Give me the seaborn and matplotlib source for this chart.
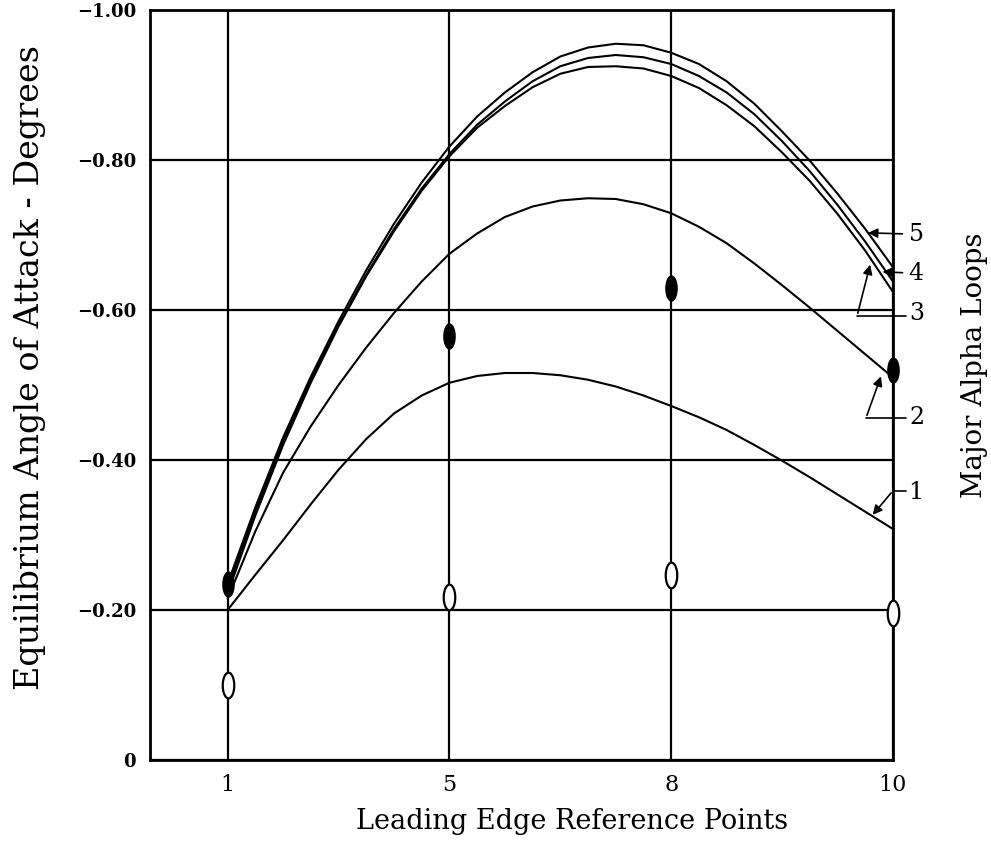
import numpy as np
import pandas as pd
import matplotlib
matplotlib.use("Agg")
import matplotlib.pyplot as plt
import seaborn as sns

# leading edge reference points (categorical, evenly spaced)
ref_points = ["1", "5", "8", "10"]
# curve samples read at 1/8 steps between the reference points
pos = [i / 8 for i in range(25)]
loop1 = [0.200, 0.247, 0.293, 0.341, 0.387, 0.428, 0.462, 0.486, 0.503, 0.512, 0.516, 0.516, 0.513,
         0.507, 0.498, 0.486, 0.472, 0.457, 0.440, 0.420, 0.399, 0.377, 0.354, 0.331, 0.308]
loop2 = [0.215, 0.305, 0.383, 0.445, 0.500, 0.550, 0.596, 0.638, 0.675, 0.702, 0.724, 0.738, 0.746,
         0.749, 0.748, 0.741, 0.729, 0.711, 0.689, 0.662, 0.633, 0.603, 0.572, 0.541, 0.510]
loop3 = [0.222, 0.326, 0.420, 0.503, 0.578, 0.645, 0.705, 0.759, 0.805, 0.843, 0.872, 0.897, 0.915,
         0.924, 0.925, 0.922, 0.912, 0.896, 0.873, 0.845, 0.810, 0.772, 0.728, 0.679, 0.624]
loop4 = [0.228, 0.332, 0.425, 0.507, 0.580, 0.647, 0.708, 0.762, 0.808, 0.847, 0.878, 0.905, 0.925,
         0.936, 0.940, 0.937, 0.928, 0.912, 0.890, 0.861, 0.825, 0.785, 0.740, 0.691, 0.638]
loop5 = [0.235, 0.337, 0.430, 0.511, 0.585, 0.653, 0.715, 0.770, 0.818, 0.858, 0.890, 0.917, 0.938,
         0.950, 0.955, 0.953, 0.943, 0.928, 0.905, 0.875, 0.838, 0.799, 0.755, 0.708, 0.657]

# measured points (magnitudes)
filled_vals = [0.235, 0.565, 0.630, 0.520]
open_vals = [0.100, 0.218, 0.247, 0.196]

yticks = [0, 0.2, 0.4, 0.6, 0.8, 1.0]
ytick_labels = ["0", "\u22120.20", "\u22120.40", "\u22120.60", "\u22120.80", "\u22121.00"]

sns.set_theme(style="white")
plt.rcParams["font.family"] = ["DejaVu Serif"]
plt.rcParams["text.color"] = "black"
plt.rcParams["axes.labelcolor"] = "black"
plt.rcParams["xtick.color"] = "black"
plt.rcParams["ytick.color"] = "black"

fig = plt.figure(figsize=(9.91, 8.43), dpi=100)
ax = fig.add_axes([150 / 991, 83 / 843, (893 - 150) / 991, (760 - 10) / 843])

loops = {"1": loop1, "2": loop2, "3": loop3, "4": loop4, "5": loop5}
df = pd.DataFrame([(name, p, v) for name, vals in loops.items() for p, v in zip(pos, vals)],
                  columns=["loop", "pos", "alpha"])
for name, d in df.groupby("loop"):
    sns.lineplot(data=d, x="pos", y="alpha", ax=ax, color="black", lw=1.5, zorder=3)

# ellipse marker
t = np.linspace(0, 2 * np.pi, 60)
ell = np.column_stack([0.45 * np.cos(t), np.sin(t)])
idx = list(range(len(ref_points)))
sns.scatterplot(x=idx, y=filled_vals, ax=ax, marker=ell, s=320, color="black",
                edgecolor="black", linewidth=1, zorder=5, clip_on=False)
sns.scatterplot(x=idx, y=open_vals, ax=ax, marker=ell, s=340, facecolor="white",
                edgecolor="black", linewidth=1.6, zorder=5, clip_on=False)

ax.set_xlim(-0.35, 3)
ax.set_ylim(0, 1.0)
ax.set_xticks(idx)
ax.set_xticklabels(ref_points, fontsize=16)
ax.set_yticks(yticks)
ax.set_yticklabels(ytick_labels, fontsize=13, fontweight="bold")
ax.tick_params(length=0, pad=10)
ax.grid(True, color="black", lw=1.6)
for s in ax.spines.values():
    s.set_color("black")
    s.set_linewidth(2)

ax.set_xlabel("Leading Edge Reference Points", fontsize=19.5)
ax.xaxis.set_label_coords(0.568, -0.064)
ax.set_ylabel("Equilibrium Angle of Attack - Degrees", fontsize=24)
ax.yaxis.set_label_coords(-0.14, 0.524)

# loop labels with leaders
lab = dict(fontsize=17, va="center", ha="left", annotation_clip=False)
arr = dict(arrowstyle="-|>", color="black", lw=1.2, mutation_scale=14)
ax.annotate("5", xy=(2.875, 0.703), xytext=(3.07, 0.701), arrowprops=arr, **lab)
ax.annotate("4", xy=(2.94, 0.651), xytext=(3.07, 0.649), arrowprops=arr, **lab)
ax.plot([3.06, 2.838], [0.592, 0.592], color="black", lw=1.2, clip_on=False)
ax.annotate("", xy=(2.90, 0.664), xytext=(2.838, 0.592), arrowprops=arr, annotation_clip=False)
ax.text(3.075, 0.595, "3", fontsize=17, va="center")
ax.plot([3.06, 2.878], [0.456, 0.456], color="black", lw=1.2, clip_on=False)
ax.annotate("", xy=(2.95, 0.515), xytext=(2.878, 0.456), arrowprops=arr, annotation_clip=False)
ax.text(3.075, 0.456, "2", fontsize=17, va="center")
ax.plot([3.06, 3.0], [0.359, 0.359], color="black", lw=1.2, clip_on=False)
ax.annotate("", xy=(2.90, 0.324), xytext=(3.0, 0.359), arrowprops=arr, annotation_clip=False)
ax.text(3.07, 0.357, "1", fontsize=17, va="center")

fig.text(975 / 991, 1 - 365 / 843, "Major Alpha Loops", fontsize=20, rotation=90,
         va="center", ha="center")

fig.savefig("out.png", dpi=100)
